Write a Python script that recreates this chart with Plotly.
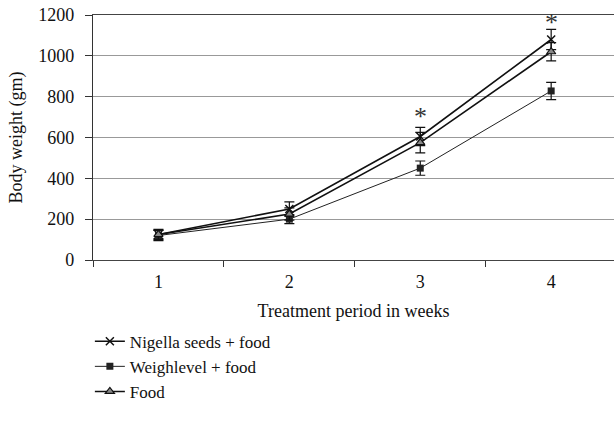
import plotly.graph_objects as go

weeks = [1, 2, 3, 4]
week_labels = ["1", "2", "3", "4"]
nigella = [125, 250, 605, 1080]
nigella_err = [20, 35, 45, 50]
weighlevel = [120, 200, 450, 828]
weighlevel_err = [25, 22, 35, 42]
food = [125, 225, 575, 1020]
food_err = [25, 30, 50, 45]
star_weeks = [3, 4]
star_values = [705, 1165]

FONT = "Liberation Serif"

fig = go.Figure()
fig.add_trace(go.Scatter(
    x=weeks, y=nigella, name="Nigella seeds + food", mode="lines+markers",
    line=dict(color="#111111", width=1.6),
    marker=dict(symbol="x-thin-open", size=8, color="#111111", line=dict(width=1.5, color="#111111")),
    error_y=dict(type="data", array=nigella_err, color="#111111", thickness=1.2, width=5)))
fig.add_trace(go.Scatter(
    x=weeks, y=weighlevel, name="Weighlevel + food", mode="lines+markers",
    line=dict(color="#222222", width=1),
    marker=dict(symbol="square", size=7, color="#222222"),
    error_y=dict(type="data", array=weighlevel_err, color="#111111", thickness=1.2, width=5)))
fig.add_trace(go.Scatter(
    x=weeks, y=food, name="Food", mode="lines+markers",
    line=dict(color="#111111", width=1.6),
    marker=dict(symbol="triangle-up", size=8, color="#888888", line=dict(width=1.2, color="#111111")),
    error_y=dict(type="data", array=food_err, color="#111111", thickness=1.2, width=5)))

for w, v in zip(star_weeks, star_values):
    fig.add_annotation(x=w, y=v, text="*", showarrow=False,
                       font=dict(family=FONT, size=26, color="#333333"))

fig.update_layout(
    width=614, height=425,
    margin=dict(l=93, r=0, t=15, b=165),
    paper_bgcolor="white", plot_bgcolor="white",
    font=dict(family=FONT, size=18, color="#111111"),
    showlegend=True,
    legend=dict(x=-0.006, xref="paper", xanchor="left", y=-0.26, yanchor="top",
                font=dict(family=FONT, size=17), tracegroupgap=0, itemwidth=30,
                bgcolor="rgba(0,0,0,0)"),
)
fig.update_xaxes(
    range=[0.5, 4.48], tickvals=weeks, ticktext=week_labels, ticks="",
    ticklabelstandoff=5,
    minor=dict(tickvals=[0.5, 1.5, 2.5, 3.5], ticks="outside", ticklen=6,
               tickcolor="#333333", showgrid=False),
    showline=True, linecolor="#444444", linewidth=1.2, mirror=True,
    showgrid=False, zeroline=False, automargin=False,
    title=dict(text="Treatment period in weeks", font=dict(family=FONT, size=18), standoff=13),
)
fig.update_yaxes(
    range=[0, 1200], dtick=200,
    ticks="outside", ticklen=7, tickcolor="#333333",
    ticklabelstandoff=7, ticklabeloverflow="allow",
    showline=True, linecolor="#333333", linewidth=1.2, automargin=False,
    showgrid=True, gridcolor="#999999", gridwidth=1.2, zeroline=False,
    title=dict(text="Body weight (gm)", font=dict(family=FONT, size=18), standoff=10),
)

fig.write_html("out.html", config={"displayModeBar": False},
               post_script="document.body.style.margin='0';document.body.style.padding='0';")
